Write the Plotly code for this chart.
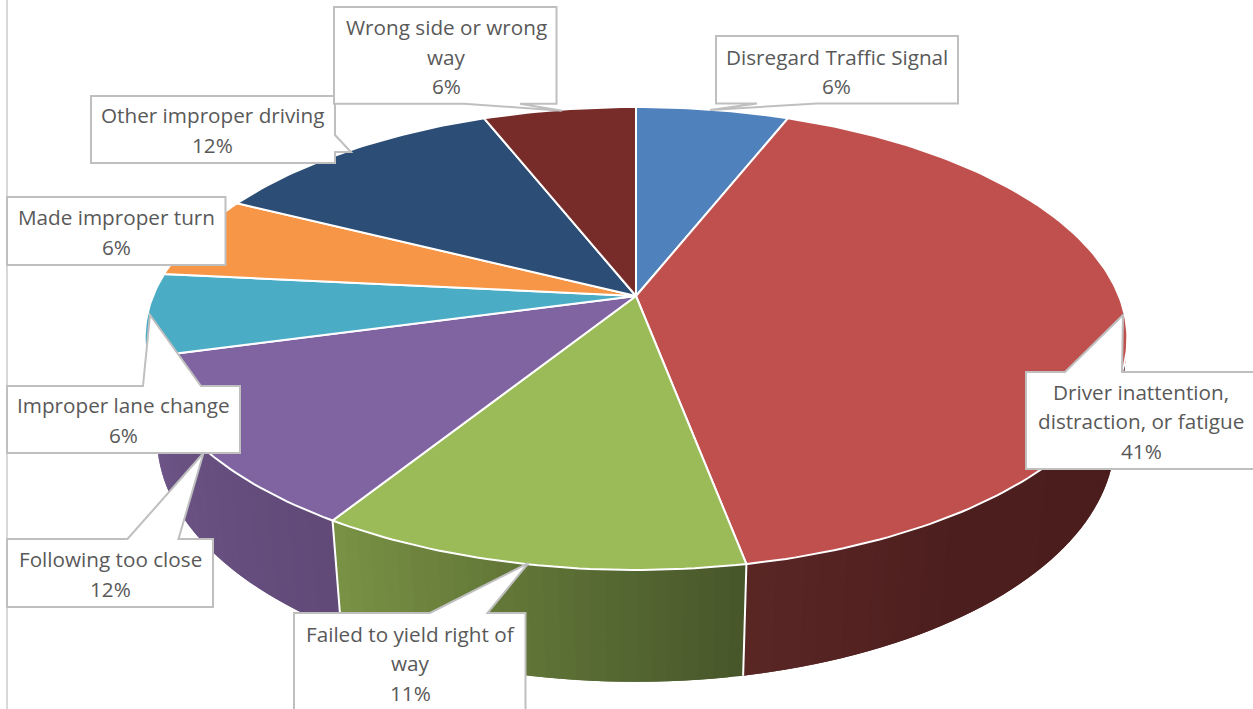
import numpy as np
import plotly.graph_objects as go

# ---- data ----
categories = ["Disregard Traffic Signal", "Driver inattention, distraction, or fatigue",
              "Failed to yield right of way", "Following too close", "Improper lane change",
              "Made improper turn", "Other improper driving", "Wrong side or wrong way"]
shares = [6.0, 41.0, 11.9, 11.9, 5.8, 5.8, 11.6, 6.0]
percent_labels = ["6%", "41%", "11%", "12%", "6%", "6%", "12%", "6%"]
wrapped_names = [["Disregard Traffic Signal"], ["Driver inattention,", "distraction, or fatigue"],
                 ["Failed to yield right of", "way"], ["Following too close"], ["Improper lane change"],
                 ["Made improper turn"], ["Other improper driving"], ["Wrong side or wrong", "way"]]

# ---- styles ----
top_colors = ["#4f81bd", "#c0504d", "#9bbb59", "#8064a2", "#4bacc6", "#f79646", "#2c4d75", "#772c2a"]
# side shading: colours from the left end of a slice's wall to its right end
side_shades = {
    1: [(0.0, (90, 39, 37)), (0.15, (78, 31, 31)), (0.35, (75, 29, 29)), (1.0, (75, 29, 29))],
    2: [(0.0, (122, 147, 69)), (1.0, (71, 86, 42))],
    3: [(0.0, (111, 86, 137)), (1.0, (97, 74, 120))],
    4: [(0.0, (50, 120, 140)), (1.0, (50, 120, 140))],
}

# ---- projection of the disc (page-pixel layout frame) ----
CX, CY, R, S, K = 636, 296, 483.0, 223.7, 0.1835
C, H = 0.025, 101.0


def top_pt(theta):
    t = np.radians(theta)
    u, v = np.sin(t), np.cos(t)
    w = 1 + K * v
    return CX + R * u / w, CY - S * v / w


def bottom_pt(theta):
    t = np.radians(theta)
    u, v = np.sin(t), np.cos(t)
    w = 1 + K * v + C
    return CX + R * u / w, CY + (-S * v + H) / w


fig = go.Figure()


def poly(xs, ys, fill, line=None, width=0):
    fig.add_trace(go.Scatter(x=list(xs), y=list(ys), mode="lines", fill="toself", fillcolor=fill,
                             line=dict(color=line or fill, width=width),
                             hoverinfo="skip", showlegend=False))


edges = np.concatenate([[0], np.cumsum(shares)]) * 3.6 * 100 / sum(shares)

# walls: strips overlap the following one so that no seams show
for i, shades in side_shades.items():
    a, b = edges[i], edges[i + 1]
    n = max(2, int((b - a) / 1.5))
    step = (b - a) / n
    stops = [s[0] for s in shades]
    for k in range(n):
        t0 = a + k * step
        t1 = min(b, t0 + step * 2)
        f = (b - (t0 + step / 2)) / (b - a)
        rgb = [int(np.interp(f, stops, [s[1][c] for s in shades])) for c in range(3)]
        col = f"rgb({rgb[0]},{rgb[1]},{rgb[2]})"
        seg = np.linspace(t0, t1, 4)
        tx, ty = top_pt(seg)
        bx, by = bottom_pt(seg[::-1])
        poly(np.r_[tx, bx], np.r_[ty, by], col)

# wall separators
for i in (2, 3):
    x0, y0 = top_pt(edges[i])
    x1, y1 = bottom_pt(edges[i])
    fig.add_trace(go.Scatter(x=[x0, x1], y=[y0, y1], mode="lines", line=dict(color="white", width=2),
                             hoverinfo="skip", showlegend=False))

# top faces
for i, col in enumerate(top_colors):
    th = np.linspace(edges[i], edges[i + 1], max(3, int(edges[i + 1] - edges[i]) + 1))
    rx, ry = top_pt(th)
    poly(np.r_[CX, rx, CX], np.r_[CY, ry, CY], col, line="white", width=2)

# ---- callouts (layout furniture, in page pixels) ----
callouts = [
    [(716, 36), (958, 36), (958, 103.5), (817, 103.5), (710, 110), (757, 103.5), (716, 103.5)],
    [(1026, 372), (1065, 372), (1123, 315), (1122, 372), (1262, 372), (1262, 469), (1026, 469)],
    [(294, 613), (430, 613), (528.5, 563), (487.5, 613), (525.5, 613), (525.5, 720), (294, 720)],
    [(7, 539), (127.5, 539), (203.5, 453), (178.5, 539), (213, 539), (213, 607), (7, 607)],
    [(7, 386), (143, 386), (150, 315), (201, 386), (240, 386), (240, 453), (7, 453)],
    [(7, 197), (225.5, 197), (225.5, 265), (7, 265)],
    [(91, 96), (335, 96), (335, 135), (351, 152), (335, 152), (335, 163), (91, 163)],
    [(334, 7), (556.5, 7), (556.5, 103.7), (520, 103.7), (562, 110.7), (464, 103.7), (334, 103.7)],
]
text_anchor = [(836.5, 71.5), (1141, 421), (410, 663), (110, 574), (123, 420), (116.5, 232), (212, 130), (446, 56.5)]
LINE_GAP = 29.5

shapes = [dict(type="line", x0=7, x1=7, y0=0, y1=709, xref="x", yref="y",
               line=dict(color="#d9d9d9", width=2), layer="above")]
for pts in callouts:
    path = "M " + " L ".join(f"{x},{y}" for x, y in pts) + " Z"
    shapes.append(dict(type="path", path=path, xref="x", yref="y", fillcolor="white",
                       line=dict(color="#bfbfbf", width=2), layer="above"))

annotations = []
for (x, y), names, p in zip(text_anchor, wrapped_names, percent_labels):
    lines = names + [p]
    first = y - LINE_GAP * (len(lines) - 1) / 2
    for j, line in enumerate(lines):
        annotations.append(dict(x=x, y=first + j * LINE_GAP, xref="x", yref="y", text=line,
                                showarrow=False, align="center",
                                font=dict(family="Open Sans", size=20.7, color="#595959")))

fig.update_layout(
    width=1253, height=709, margin=dict(l=0, r=0, t=0, b=0),
    paper_bgcolor="white", plot_bgcolor="white", showlegend=False,
    xaxis=dict(range=[0, 1253], visible=False, fixedrange=True),
    yaxis=dict(range=[709, 0], visible=False, fixedrange=True),
    shapes=shapes, annotations=annotations,
)
fig.write_html("out.html", config=dict(displayModeBar=False),
               post_script="document.body.style.margin='0';document.body.style.overflow='hidden';")
